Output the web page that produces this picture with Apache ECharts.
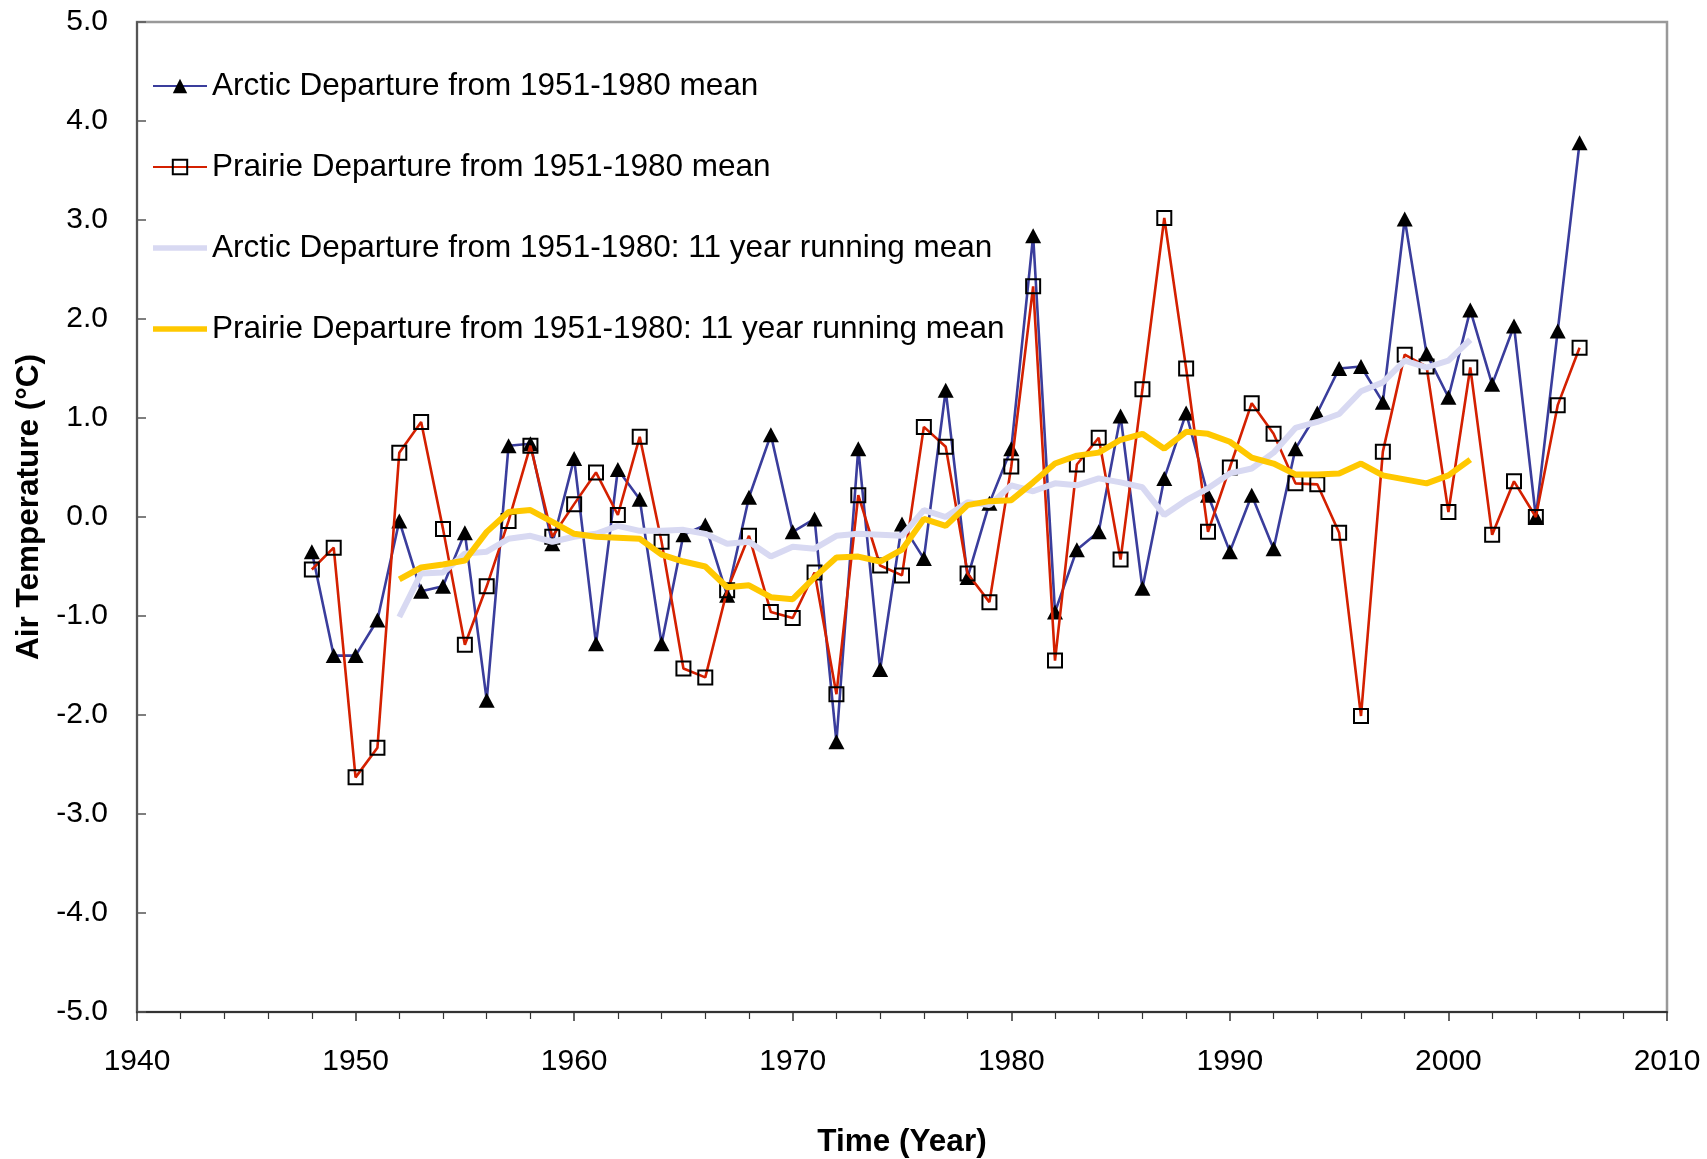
<!DOCTYPE html>
<html>
<head>
<meta charset="utf-8">
<script src="https://cdn.jsdelivr.net/npm/echarts@6/dist/echarts.min.js"></script>
<style>
html,body{margin:0;padding:0;background:#fff;}
#chart{width:1707px;height:1159px;}
</style>
</head>
<body>
<div id="chart"></div>
<script>
// Years of annual departures
const years = [1948,1949,1950,1951,1952,1953,1954,1955,1956,1957,1958,1959,1960,1961,1962,1963,1964,1965,1966,1967,1968,1969,1970,1971,1972,1973,1974,1975,1976,1977,1978,1979,1980,1981,1982,1983,1984,1985,1986,1987,1988,1989,1990,1991,1992,1993,1994,1995,1996,1997,1998,1999,2000,2001,2002,2003,2004,2005,2006];
const arctic = [-0.35,-1.40,-1.40,-1.04,-0.04,-0.75,-0.70,-0.16,-1.85,0.72,0.74,-0.27,0.59,-1.28,0.48,0.18,-1.28,-0.18,-0.08,-0.79,0.20,0.83,-0.15,-0.02,-2.27,0.69,-1.54,-0.07,-0.42,1.28,-0.61,0.14,0.69,2.84,-0.96,-0.33,-0.15,1.02,-0.72,0.39,1.05,0.22,-0.35,0.22,-0.32,0.69,1.05,1.50,1.52,1.16,3.01,1.65,1.21,2.09,1.34,1.93,0.00,1.88,3.78];
const prairie = [-0.53,-0.31,-2.63,-2.33,0.65,0.96,-0.12,-1.29,-0.70,-0.04,0.72,-0.20,0.13,0.45,0.02,0.81,-0.25,-1.53,-1.62,-0.74,-0.19,-0.96,-1.02,-0.56,-1.79,0.22,-0.49,-0.59,0.91,0.71,-0.57,-0.86,0.51,2.33,-1.45,0.53,0.80,-0.43,1.29,3.02,1.50,-0.15,0.50,1.15,0.84,0.34,0.33,-0.16,-2.01,0.66,1.64,1.52,0.05,1.51,-0.18,0.36,0.00,1.13,1.71];
// Years of 11-year running means
const rmYears = [1952,1953,1954,1955,1956,1957,1958,1959,1960,1961,1962,1963,1964,1965,1966,1967,1968,1969,1970,1971,1972,1973,1974,1975,1976,1977,1978,1979,1980,1981,1982,1983,1984,1985,1986,1987,1988,1989,1990,1991,1992,1993,1994,1995,1996,1997,1998,1999,2000,2001];
const arcticRM = [-1.01,-0.57,-0.56,-0.37,-0.35,-0.22,-0.19,-0.25,-0.20,-0.17,-0.09,-0.14,-0.14,-0.13,-0.17,-0.27,-0.25,-0.40,-0.30,-0.32,-0.19,-0.17,-0.18,-0.19,0.07,0.00,0.15,0.12,0.32,0.26,0.34,0.32,0.39,0.35,0.30,0.02,0.17,0.29,0.44,0.49,0.65,0.90,0.96,1.04,1.27,1.36,1.58,1.51,1.58,1.79];
const prairieRM = [-0.63,-0.51,-0.48,-0.44,-0.15,0.05,0.07,-0.05,-0.17,-0.20,-0.21,-0.22,-0.38,-0.45,-0.50,-0.71,-0.69,-0.81,-0.83,-0.61,-0.41,-0.40,-0.45,-0.33,-0.02,-0.09,0.12,0.16,0.17,0.35,0.54,0.62,0.65,0.78,0.84,0.69,0.86,0.84,0.76,0.60,0.54,0.43,0.43,0.44,0.54,0.42,0.38,0.34,0.42,0.58];
const seriesNames = [
  'Arctic Departure from 1951-1980 mean',
  'Prairie Departure from 1951-1980 mean',
  'Arctic Departure from 1951-1980: 11 year running mean',
  'Prairie Departure from 1951-1980: 11 year running mean'
];
const xAxisName = 'Time (Year)';
const yAxisName = 'Air Temperature (°C)';

const pair = (xs, ys) => xs.map((x, i) => [x, ys[i]]);
const FONT = '"Liberation Sans", Arial, sans-serif';
const barIcon = 'path://M0,0 L54,0 L54,5.5 L0,5.5 Z';

const chart = echarts.init(document.getElementById('chart'), null, {renderer: 'canvas'});
chart.setOption({
  backgroundColor: '#fff',
  animation: false,
  textStyle: {fontFamily: FONT, color: '#000'},
  grid: {left: 137, right: 40, top: 22, bottom: 147, show: true, borderColor: '#999', borderWidth: 2.5,
         backgroundColor: 'transparent', containLabel: false, outerBoundsMode: 'none'},
  legend: {
    orient: 'vertical', left: 152, top: 70, padding: 0,
    itemWidth: 54, itemHeight: 18, itemGap: 49,
    textStyle: {fontFamily: FONT, fontSize: 31.5, lineHeight: 32, color: '#000'},
    data: [
      {name: seriesNames[0]},
      {name: seriesNames[1]},
      {name: seriesNames[2], icon: barIcon},
      {name: seriesNames[3], icon: barIcon}
    ]
  },
  xAxis: {
    type: 'value', min: 1940, max: 2010, interval: 10,
    name: xAxisName, nameLocation: 'middle', nameGap: 114,
    nameTextStyle: {fontFamily: FONT, fontSize: 31.5, fontWeight: 'bold', color: '#000'},
    axisLine: {show: true, onZero: false, lineStyle: {color: '#333', width: 2}},
    axisTick: {show: true, inside: false, length: 9, lineStyle: {color: '#333', width: 1.5}},
    minorTick: {show: true, splitNumber: 5, length: 7, lineStyle: {color: '#333', width: 1.2}},
    splitLine: {show: false},
    axisLabel: {margin: 35, fontSize: 30, color: '#000', fontFamily: FONT, formatter: v => String(v)}
  },
  yAxis: {
    type: 'value', min: -5, max: 5, interval: 1,
    name: yAxisName, nameLocation: 'middle', nameGap: 92, nameRotate: 90,
    nameTextStyle: {fontFamily: FONT, fontSize: 31.5, fontWeight: 'bold', color: '#000', padding: [0, 0, 0, 20]},
    axisLine: {show: true, onZero: false, lineStyle: {color: '#555', width: 2}},
    axisTick: {show: true, inside: true, length: 9, lineStyle: {color: '#555', width: 1.5}},
    splitLine: {show: false},
    axisLabel: {margin: 29, fontSize: 30, color: '#000', fontFamily: FONT, formatter: v => v.toFixed(1)}
  },
  series: [
    {
      name: seriesNames[0], type: 'line', z: 2, data: pair(years, arctic),
      symbol: 'triangle', symbolSize: [16, 15], showAllSymbol: true,
      lineStyle: {color: '#3a3d9c', width: 2.6},
      itemStyle: {color: '#000', borderWidth: 0},
      emphasis: {disabled: true}
    },
    {
      name: seriesNames[1], type: 'line', z: 3, data: pair(years, prairie),
      symbol: 'rect', symbolSize: 14, showAllSymbol: true,
      lineStyle: {color: '#d42000', width: 2.6},
      itemStyle: {color: 'rgba(0,0,0,0)', borderColor: '#000', borderWidth: 2},
      emphasis: {disabled: true}
    },
    {
      name: seriesNames[2], type: 'line', z: 4, data: pair(rmYears, arcticRM),
      symbol: 'none', showSymbol: false,
      lineStyle: {color: '#d8d9f2', width: 6},
      itemStyle: {color: '#d8d9f2'},
      emphasis: {disabled: true}
    },
    {
      name: seriesNames[3], type: 'line', z: 5, data: pair(rmYears, prairieRM),
      symbol: 'none', showSymbol: false,
      lineStyle: {color: '#ffc800', width: 6},
      itemStyle: {color: '#ffc800'},
      emphasis: {disabled: true}
    }
  ]
});
</script>
</body>
</html>
